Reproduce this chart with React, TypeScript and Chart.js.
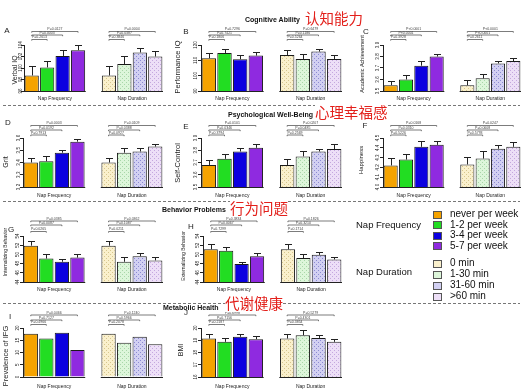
import React, { useEffect, useRef } from "react";
import { Chart, registerables } from "chart.js";
Chart.register(...registerables);

const W = 523;
const H = 392;
const FONT = "'Liberation Sans', Arial, sans-serif";
const CJK = "'Noto Sans CJK SC', sans-serif";

// ---- categories ----
const freqLabels = ["never per week", "1-2 per week", "3-4 per week", "5-7 per week"];
const durLabels = ["0 min", "1-30 min", "31-60 min", ">60 min"];
const freqColors = ["#f5a300", "#22dd22", "#0c00e0", "#8f2ae0"];
const durColors = ["#faf0cc", "#ddf6da", "#d2d0f2", "#eddff7"];
const durDotColors = ["#d6c68e", "#a9d6a9", "#8c8ad2", "#c4a8de"];

// ---- values: [never, 1-2, 3-4, 5-7, 0 min, 1-30, 31-60, >60] ----
const verbalIQ = [98.7, 100.1, 102.1, 103.1, 98.7, 100.7, 102.7, 102.0];
const verbalIQErr = [1.7, 1.1, 1.1, 0.9, 1.7, 1.4, 0.8, 0.9];
const verbalIQTicks = [96, 104, 2];
const verbalIQP = ["P=0.0127", "P=0.0003", "P=0.2613", "P=0.0004", "P=0.0387", "P=0.3846"];

const performanceIQ = [111.4, 114.8, 110.7, 113.1, 113.5, 110.9, 115.7, 110.9];
const performanceIQErr = [3.4, 2.6, 2.8, 2.2, 3.3, 3.3, 1.7, 2.4];
const performanceIQTicks = [90, 120, 10];
const performanceIQP = ["P=0.7296", "P=0.7421", "P=0.1806", "P=0.6479", "P=0.1186", "P=0.5264"];

const academic = [3.55, 3.6, 3.72, 3.8, 3.55, 3.61, 3.74, 3.76];
const academicErr = [0.04, 0.04, 0.04, 0.02, 0.05, 0.04, 0.02, 0.03];
const academicTicks = [3.5, 3.9, 0.1];
const academicP = ["P<0.0001", "P<0.0001", "P=0.3928", "P<0.0001", "P<0.0001", "P=0.2611"];

const grit = [3.4, 3.41, 3.48, 3.57, 3.4, 3.48, 3.49, 3.53];
const gritErr = [0.04, 0.04, 0.02, 0.02, 0.04, 0.04, 0.03, 0.02];
const gritTicks = [3.2, 3.6, 0.1];
const gritP = ["P=0.0003", "P=0.0192", "P=0.7913", "P=0.0109", "P=0.0388", "P=0.0927"];

const selfControl = [3.68, 3.73, 3.79, 3.82, 3.68, 3.75, 3.79, 3.81];
const selfControlErr = [0.04, 0.04, 0.03, 0.03, 0.05, 0.04, 0.02, 0.04];
const selfControlTicks = [3.5, 3.9, 0.1];
const selfControlP = ["P=0.0101", "P=0.0346", "P=0.3794", "P=0.0207", "P=0.0485", "P=0.2569"];

const happiness = [4.22, 4.28, 4.41, 4.43, 4.23, 4.29, 4.39, 4.41];
const happinessErr = [0.08, 0.06, 0.06, 0.04, 0.08, 0.08, 0.04, 0.05];
const happinessTicks = [4.0, 4.5, 0.1];
const happinessP = ["P=0.0168", "P=0.0310", "P=0.5226", "P=0.0247", "P=0.0608", "P=0.5793"];

const internalizing = [51.9, 49.1, 48.4, 49.3, 51.9, 48.4, 49.6, 48.7];
const internalizingErr = [1.1, 0.9, 0.7, 0.7, 1.1, 1.0, 0.8, 0.8];
const internalizingTicks = [44, 54, 2];
const internalizingP = ["P=0.0385", "P=0.0087", "P=0.0265", "P=0.0362", "P=0.1087", "P=0.0211"];

const externalizing = [51.1, 50.8, 47.9, 49.6, 51.1, 49.2, 49.9, 48.9];
const externalizingErr = [1.1, 0.8, 0.5, 0.7, 1.1, 0.9, 0.7, 0.6];
const externalizingTicks = [44, 54, 2];
const externalizingP = ["P=0.3834", "P=0.0067", "P=0.7299", "P=0.1826", "P=0.3210", "P=0.1714"];

const ifg = [17.7, 15.7, 18.1, 11.0, 17.7, 14.0, 16.4, 13.4];
const ifgTicks = [0, 20, 5];
const ifgP = ["P=0.0466", "P=0.7127", "P=0.4966", "P=0.1240", "P=0.5966", "P=0.2078"];

const bmi = [19.14, 18.87, 19.28, 19.09, 19.14, 19.41, 19.19, 18.87];
const bmiErr = [0.4, 0.32, 0.26, 0.27, 0.4, 0.4, 0.27, 0.27];
const bmiTicks = [16, 20, 1];
const bmiP = ["P=0.6998", "P=0.7156", "P=0.2187", "P=0.5279", "P=0.4301", "P=0.3854"];

// ---- layout (positions only) ----
type PanelDef = {
  id: string;
  yTitle: string;
  values: number[];
  errors: number[] | null;
  ticks: number[];
  dec: number;
  pv: string[];
  l: number; r: number; t: number; b: number;
  letter: [number, number];
  titleX: number; titleY: number; titleSize: number;
  tickX: number;
  br: number[];
  xLabY: number;
};

const R1 = { t: 45, b: 91, br: [13.5, 10, 5.5], xl: 99 };
const R2 = { t: 138, b: 187, br: [12.5, 8, 3], xl: 196 };
const R3 = { t: 236, b: 282, br: [15, 11, 4.5], xl: 290 };
const R4 = { t: 328, b: 377, br: [13, 8, 3.5], xl: 387 };

const panels: PanelDef[] = [
  { id: "A", yTitle: "Verbal IQ", values: verbalIQ, errors: verbalIQErr, ticks: verbalIQTicks, dec: 0, pv: verbalIQP,
    l: 24, r: 163, t: R1.t, b: R1.b, letter: [7, 31], titleX: 15, titleY: 70, titleSize: 7, tickX: 20.5, br: R1.br, xLabY: R1.xl },
  { id: "B", yTitle: "Performance IQ", values: performanceIQ, errors: performanceIQErr, ticks: performanceIQTicks, dec: 0, pv: performanceIQP,
    l: 201, r: 342, t: R1.t, b: R1.b, letter: [186, 32], titleX: 178, titleY: 67, titleSize: 7.5, tickX: 196, br: R1.br, xLabY: R1.xl },
  { id: "C", yTitle: "Academic Achievement", values: academic, errors: academicErr, ticks: academicTicks, dec: 1, pv: academicP,
    l: 383, r: 521, t: R1.t, b: R1.b, letter: [366, 32], titleX: 362, titleY: 64, titleSize: 5.5, tickX: 377.5, br: R1.br, xLabY: R1.xl },
  { id: "D", yTitle: "Grit", values: grit, errors: gritErr, ticks: gritTicks, dec: 1, pv: gritP,
    l: 23, r: 163, t: R2.t, b: R2.b, letter: [8, 123], titleX: 6, titleY: 162, titleSize: 7, tickX: 18.5, br: R2.br, xLabY: R2.xl },
  { id: "E", yTitle: "Self-Control", values: selfControl, errors: selfControlErr, ticks: selfControlTicks, dec: 1, pv: selfControlP,
    l: 201, r: 342, t: R2.t, b: R2.b, letter: [186, 127], titleX: 178, titleY: 163, titleSize: 7.5, tickX: 196, br: R2.br, xLabY: R2.xl },
  { id: "F", yTitle: "Happiness", values: happiness, errors: happinessErr, ticks: happinessTicks, dec: 1, pv: happinessP,
    l: 383, r: 521, t: R2.t, b: R2.b, letter: [365, 126], titleX: 361, titleY: 160, titleSize: 6, tickX: 377.5, br: R2.br, xLabY: R2.xl },
  { id: "G", yTitle: "Internalizing Behavior", values: internalizing, errors: internalizingErr, ticks: internalizingTicks, dec: 0, pv: internalizingP,
    l: 23, r: 163, t: R3.t, b: R3.b, letter: [11, 230], titleX: 6, titleY: 252, titleSize: 5, tickX: 17.5, br: R3.br, xLabY: R3.xl },
  { id: "H", yTitle: "Externalizing Behavior", values: externalizing, errors: externalizingErr, ticks: externalizingTicks, dec: 0, pv: externalizingP,
    l: 203, r: 342, t: R3.t, b: R3.b, letter: [191, 227], titleX: 184, titleY: 256, titleSize: 5, tickX: 197.5, br: R3.br, xLabY: R3.xl },
  { id: "I", yTitle: "Prevalence of IFG", values: ifg, errors: null, ticks: ifgTicks, dec: 0, pv: ifgP,
    l: 23, r: 163, t: R4.t, b: R4.b, letter: [10, 317], titleX: 6, titleY: 356, titleSize: 7.5, tickX: 17.5, br: R4.br, xLabY: R4.xl },
  { id: "J", yTitle: "BMI", values: bmi, errors: bmiErr, ticks: bmiTicks, dec: 0, pv: bmiP,
    l: 201, r: 342, t: R4.t, b: R4.b, letter: [186, 313], titleX: 181, titleY: 350, titleSize: 7, tickX: 196, br: R4.br, xLabY: R4.xl },
];

function makePattern(ctx: CanvasRenderingContext2D, base: string, dot: string) {
  const tile = document.createElement("canvas");
  tile.width = 4;
  tile.height = 4;
  const g = tile.getContext("2d")!;
  g.fillStyle = base;
  g.fillRect(0, 0, 4, 4);
  g.fillStyle = dot;
  g.fillRect(0, 0, 1, 1);
  g.fillRect(2, 2, 1, 1);
  return ctx.createPattern(tile, "repeat")!;
}

function rotText(c: CanvasRenderingContext2D, text: string, x: number, y: number, size: number) {
  c.save();
  c.translate(x, y);
  c.rotate(-Math.PI / 2);
  c.font = `${size}px ${FONT}`;
  c.textAlign = "center";
  c.textBaseline = "middle";
  c.fillText(text, 0, 0);
  c.restore();
}

function Panel({ p }: { p: PanelDef }) {
  const ref = useRef<HTMLCanvasElement>(null);
  useEffect(() => {
    const canvas = ref.current!;
    const ctx = canvas.getContext("2d")!;
    const patterns = durColors.map((col, i) => makePattern(ctx, col, durDotColors[i]));
    const data = [...p.values.slice(0, 4), null, ...p.values.slice(4)];
    const bg: any[] = [...freqColors, "rgba(0,0,0,0)", ...patterns];
    const idxMap = [0, 1, 2, 3, 5, 6, 7, 8];

    const deco = {
      id: "deco" + p.id,
      afterDatasetsDraw(chart: any) {
        const c: CanvasRenderingContext2D = chart.ctx;
        const y = chart.scales.y;
        const meta = chart.getDatasetMeta(0);
        if (p.errors) {
          c.save();
          c.strokeStyle = "#222";
          c.lineWidth = 1;
          idxMap.forEach((di, k) => {
            const bar = meta.data[di];
            const top = Math.round(y.getPixelForValue(p.values[k] + p.errors![k])) + 0.5;
            const bx = Math.round(bar.x) + 0.5;
            c.beginPath();
            c.moveTo(bx, bar.y);
            c.lineTo(bx, top);
            c.moveTo(bx - 3.5, top);
            c.lineTo(bx + 3.5, top);
            c.stroke();
          });
          c.restore();
        }
      },
      afterDraw(chart: any) {
        const c: CanvasRenderingContext2D = chart.ctx;
        const y = chart.scales.y;
        const area = chart.chartArea;
        const meta = chart.getDatasetMeta(0);
        const catW = (area.right - area.left) / 9;
        c.save();
        c.fillStyle = "#222";
        // panel letter
        c.font = `8px ${FONT}`;
        c.textAlign = "center";
        c.textBaseline = "middle";
        c.fillText(p.id, p.letter[0], p.letter[1]);
        // y title
        rotText(c, p.yTitle, p.titleX, p.titleY, p.titleSize);
        // tick labels
        y.ticks.forEach((t: any) => {
          rotText(c, Number(t.value).toFixed(p.dec), p.tickX, y.getPixelForValue(t.value), 4.5);
        });
        // x baselines and labels
        c.strokeStyle = "#222";
        c.lineWidth = 1;
        const groups = [[0, 3, "Nap Frequency"], [5, 8, "Nap Duration"]] as const;
        groups.forEach(([a, bIdx, lab], gi) => {
          const x0 = meta.data[a].x - catW / 2;
          const x1 = meta.data[bIdx].x + catW / 2;
          c.beginPath();
          c.moveTo(x0, Math.round(area.bottom) + 0.5);
          c.lineTo(x1, Math.round(area.bottom) + 0.5);
          c.stroke();
          c.font = `5px ${FONT}`;
          c.textAlign = "center";
          c.textBaseline = "middle";
          c.fillText(lab, (x0 + x1) / 2, p.xLabY);
          // brackets
          c.lineWidth = 0.7;
          c.strokeStyle = "#444";
          [3, 2, 1].forEach((k, li) => {
            const ly = area.top - p.br[li];
            const xa = meta.data[a].x;
            const xb = meta.data[a + k].x;
            c.beginPath();
            c.moveTo(xa, ly + 1.2);
            c.lineTo(xa, ly);
            c.lineTo(xb, ly);
            c.lineTo(xb, ly + 1.2);
            c.stroke();
            c.font = `3.5px ${FONT}`;
            c.fillStyle = "#444";
            c.textBaseline = "bottom";
            c.fillText(p.pv[gi * 3 + li], (xa + xb) / 2, ly - 0.3);
          });
          c.fillStyle = "#222";
          c.strokeStyle = "#222";
          c.lineWidth = 1;
        });
        c.restore();
      },
    };

    const chart = new Chart(canvas, {
      type: "bar",
      data: {
        labels: [...freqLabels, "", ...durLabels],
        datasets: [
          {
            data,
            backgroundColor: bg,
            borderColor: "#1a1a1a",
            borderWidth: 1,
            barPercentage: 0.92,
            categoryPercentage: 1,
          },
        ],
      },
      options: {
        animation: false,
        responsive: false,
        events: [],
        layout: { padding: { left: p.l - 3, right: W - p.r, top: p.t, bottom: H - p.b } },
        plugins: { legend: { display: false }, tooltip: { enabled: false } },
        scales: {
          x: { display: false, offset: true },
          y: {
            min: p.ticks[0],
            max: p.ticks[1],
            ticks: { stepSize: p.ticks[2], display: false },
            grid: { drawOnChartArea: false, drawTicks: true, tickLength: 3, color: "#222" },
            border: { display: true, color: "#222", width: 1 },
            afterFit: (s: any) => {
              s.width = 3;
            },
          },
        },
      } as any,
      plugins: [deco as any],
    });
    return () => chart.destroy();
  }, [p]);
  return <canvas ref={ref} width={W} height={H} style={{ position: "absolute", left: 0, top: 0 }} />;
}

const sectionTitles = [
  { en: "Cognitive Ability", enX: 245, enY: 20, zh: "认知能力", zhX: 305, zhY: 18 },
  { en: "Psychological Well-Being", enX: 228, enY: 115, zh: "心理幸福感", zhX: 315, zhY: 112 },
  { en: "Behavior Problems", enX: 162, enY: 210, zh: "行为问题", zhX: 230, zhY: 208 },
  { en: "Metabolic Health", enX: 163, enY: 308, zh: "代谢健康", zhX: 225, zhY: 303 },
];
const dashedYs = [105, 201, 303];

export default function App() {
  const legendFreqY = [214, 224.5, 235, 245.5];
  const legendDurY = [263, 274, 285, 296];
  return (
    <div style={{ position: "fixed", left: 0, top: 0, width: W, height: H, background: "#fff", overflow: "hidden", fontFamily: FONT }}>
      <svg width={W} height={H} style={{ position: "absolute", left: 0, top: 0 }}>
        {dashedYs.map((y) => (
          <line key={y} x1={3} x2={520} y1={y + 0.5} y2={y + 0.5} stroke="#777" strokeWidth={1} strokeDasharray="3,2" />
        ))}
      </svg>
      {panels.map((p) => (
        <Panel key={p.id} p={p} />
      ))}
      {sectionTitles.map((s) => (
        <React.Fragment key={s.en}>
          <div style={{ position: "absolute", left: s.enX, top: s.enY - 5, height: 10, lineHeight: "10px", fontSize: 7, fontWeight: "bold", color: "#111", whiteSpace: "nowrap" }}>
            {s.en}
          </div>
          <div style={{ position: "absolute", left: s.zhX, top: s.zhY - 9, height: 18, lineHeight: "18px", fontSize: 14.5, fontFamily: CJK, color: "#e3201b", background: "#fff", whiteSpace: "nowrap" }}>
            {s.zh}
          </div>
        </React.Fragment>
      ))}
      <div style={{ position: "absolute", left: 356, top: 225 - 6, lineHeight: "12px", fontSize: 9.5, color: "#111", whiteSpace: "nowrap" }}>Nap Frequency</div>
      <div style={{ position: "absolute", left: 356, top: 272 - 6, lineHeight: "12px", fontSize: 9.5, color: "#111", whiteSpace: "nowrap" }}>Nap Duration</div>
      {freqLabels.map((lab, i) => (
        <React.Fragment key={lab}>
          <div style={{ position: "absolute", left: 433, top: legendFreqY[i] - 3.5, width: 7, height: 6, background: freqColors[i], border: "1px solid #555" }} />
          <div style={{ position: "absolute", left: 450, top: legendFreqY[i] - 6, lineHeight: "12px", fontSize: 10, color: "#111", whiteSpace: "nowrap" }}>{lab}</div>
        </React.Fragment>
      ))}
      {durLabels.map((lab, i) => (
        <React.Fragment key={lab}>
          <div style={{ position: "absolute", left: 433, top: legendDurY[i] - 3.5, width: 7, height: 6, background: durColors[i], border: "1px solid #555" }} />
          <div style={{ position: "absolute", left: 450, top: legendDurY[i] - 6, lineHeight: "12px", fontSize: 10, color: "#111", whiteSpace: "nowrap" }}>{lab}</div>
        </React.Fragment>
      ))}
    </div>
  );
}
